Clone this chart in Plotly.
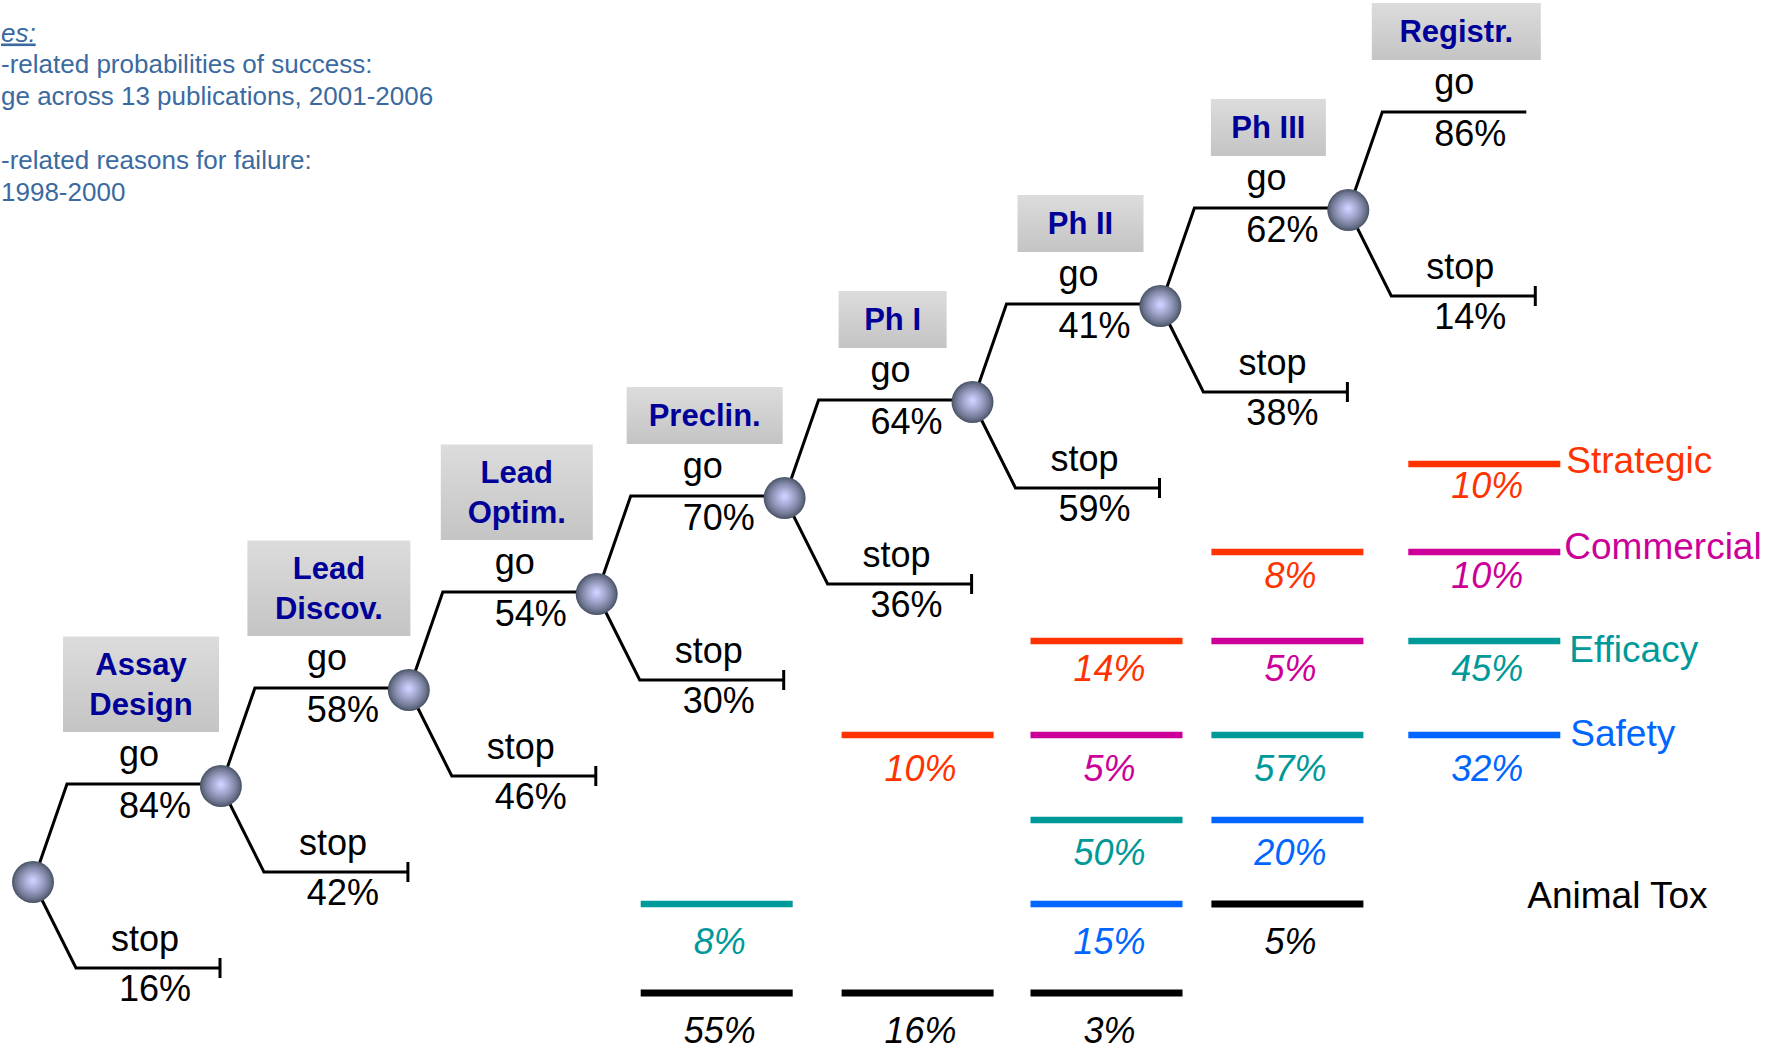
import plotly.graph_objects as go

# ---------------- data ----------------
stage_labels = ["Assay<br>Design", "Lead<br>Discov.", "Lead<br>Optim.", "Preclin.",
                "Ph I", "Ph II", "Ph III", "Registr."]
go_pct = [84, 58, 54, 70, 64, 41, 62, 86]
stop_pct = [16, 42, 46, 30, 36, 59, 38, 14]

reasons = ["Strategic", "Commercial", "Efficacy", "Safety", "Animal Tox"]
failure_stages = ["Preclin.", "Ph I", "Ph II", "Ph III", "Registr."]
strategic_pct = [None, 10, 14, 8, 10]
commercial_pct = [None, None, 5, 5, 10]
efficacy_pct = [8, None, 50, 57, 45]
safety_pct = [None, None, 15, 20, 32]
animal_tox_pct = [55, 16, 3, 5, None]
reason_values = [strategic_pct, commercial_pct, efficacy_pct, safety_pct, animal_tox_pct]

note_lines = ["<i><u>es:</u></i>",
              "-related probabilities of success:",
              "ge across 13 publications, 2001-2006",
              "",
              "-related reasons for failure:",
              "1998-2000"]

# ---------------- layout / style constants ----------------
W, H = 1778, 1050
FONT = "Liberation Sans, Arial, sans-serif"
X0, DX = 33, 187.9          # decision node spacing
Y0, DY = 882, 96
GO_RISE, GO_RUN = 98, 34
STOP_DROP, STOP_RUN, STOP_LEN = 86, 43, 187
LAST_GO_LEN = 178
TICK = 10
BOX_W = [156, 163, 152, 156, 108, 126, 115, 169]
BOX_DX, BOX_GAP = 108, 150
BOX_BASE_H, BOX_LINE_H = 18.5, 38.5
FIRST_FAIL_STAGE = 3        # failure columns start at "Preclin."
COL_DX = [120, 133, 134, 127, 136]   # column centre relative to its stage node
BAR_HALF = 76
BAR_ROW_Y = [464, 552, 641, 735, 820, 904, 993]
LABEL_ROW_Y = [489, 579, 672, 772, 856, 945, 1034]
ROW_INDEX = [                 # row of each reason in each failure column
    [None, 3, 2, 1, 0],       # Strategic
    [None, None, 3, 2, 1],    # Commercial
    [5, None, 4, 3, 2],       # Efficacy
    [None, None, 5, 4, 3],    # Safety
    [6, 6, 6, 5, 5],          # Animal Tox
]
LEGEND_DX = [82, 80, 85, 86, 43]
LEGEND_DY = [0, -2, 12, 2, -5]
REASON_COLORS = ["#FF3300", "#CC0099", "#009999", "#0066FF", "#000000"]
BAR_WIDTHS = [6.5, 6.5, 6.5, 6.5, 7]
NOTE_COLOR = "#3B6AA0"
NOTE_X = 1
NOTE_Y0, NOTE_DY = 35, 31.8


def node_xy(i):
    return X0 + i * DX, Y0 - i * DY


n = len(go_pct)
fig = go.Figure()

# ---------------- stage boxes ----------------
for i, lab in enumerate(stage_labels):
    nx, ny = node_xy(i)
    nl = lab.count("<br>") + 1
    h = BOX_BASE_H + BOX_LINE_H * nl
    cx = nx + BOX_DX
    bottom = ny - BOX_GAP
    top = bottom - h
    w = BOX_W[i]
    fig.add_trace(go.Scatter(
        x=[cx - w / 2, cx + w / 2, cx + w / 2, cx - w / 2, cx - w / 2],
        y=[top, top, bottom, bottom, top], mode="none", fill="toself",
        fillgradient=dict(type="vertical", start=top, stop=bottom,
                          colorscale=[[0, "#dcdcdc"], [1, "#c4c4c4"]]),
        hoverinfo="skip"))
    fig.add_trace(go.Scatter(
        x=[cx], y=[(top + bottom) / 2 + 3], mode="text", text=[f"<b>{lab}</b>"],
        textposition="middle center", cliponaxis=False,
        textfont=dict(family=FONT, size=31, color="#000099"), hoverinfo="skip"))

# ---------------- tree lines ----------------
lx, ly = [], []
for i in range(n):
    nx, ny = node_xy(i)
    gy = ny - GO_RISE
    gend = nx + DX if i < n - 1 else nx + LAST_GO_LEN
    lx += [nx, nx + GO_RUN, gend, None]
    ly += [ny, gy, gy, None]
    sy = ny + STOP_DROP
    send = nx + STOP_LEN
    lx += [nx, nx + STOP_RUN, send, None, send, send, None]
    ly += [ny, sy, sy, None, sy - TICK, sy + TICK, None]
fig.add_trace(go.Scatter(x=lx, y=ly, mode="lines",
                         line=dict(color="black", width=3), hoverinfo="skip"))

# ---------------- nodes (shaded spheres) ----------------
nodes = [node_xy(i) for i in range(n)]
outer = (78, 88, 108)
inner = (205, 208, 255)
layers = 14
for k in range(layers):
    t = k / (layers - 1)
    s = t ** 0.8
    col = tuple(int(outer[j] + (inner[j] - outer[j]) * s) for j in range(3))
    size = 42 * (1 - t) + 4 * t
    fig.add_trace(go.Scatter(
        x=[p[0] for p in nodes], y=[p[1] - 1.5 * t for p in nodes], mode="markers",
        marker=dict(size=size, color=f"rgb{col}", line=dict(width=0)),
        hoverinfo="skip"))

# ---------------- go / stop labels ----------------
tf = dict(family=FONT, size=36, color="black")
gx = [node_xy(i)[0] for i in range(n)]
gyl = [node_xy(i)[1] - GO_RISE for i in range(n)]
syl = [node_xy(i)[1] + STOP_DROP for i in range(n)]
fig.add_trace(go.Scatter(x=[x + 106 for x in gx], y=[y - 27 for y in gyl], mode="text",
                         text=["go"] * n, textfont=tf, cliponaxis=False, hoverinfo="skip"))
fig.add_trace(go.Scatter(x=[x + 122 for x in gx], y=[y + 25 for y in gyl], mode="text",
                         text=[f"{v}%" for v in go_pct], textfont=tf, cliponaxis=False,
                         hoverinfo="skip"))
fig.add_trace(go.Scatter(x=[x + 112 for x in gx], y=[y - 26 for y in syl], mode="text",
                         text=["stop"] * n, textfont=tf, cliponaxis=False, hoverinfo="skip"))
fig.add_trace(go.Scatter(x=[x + 122 for x in gx], y=[y + 24 for y in syl], mode="text",
                         text=[f"{v}%" for v in stop_pct], textfont=tf, cliponaxis=False,
                         hoverinfo="skip"))

# ---------------- failure reasons ----------------
def col_center(c):
    return node_xy(FIRST_FAIL_STAGE + c)[0] + COL_DX[c]


for r, (reason, vals) in enumerate(zip(reasons, reason_values)):
    bx, by, tx, ty, tt = [], [], [], [], []
    for c, v in enumerate(vals):
        if v is None:
            continue
        cx = col_center(c)
        row = ROW_INDEX[r][c]
        bx += [cx - BAR_HALF, cx + BAR_HALF, None]
        by += [BAR_ROW_Y[row], BAR_ROW_Y[row], None]
        tx.append(cx + 3)
        ty.append(LABEL_ROW_Y[row])
        tt.append(f"{v}%")
    fig.add_trace(go.Scatter(x=bx, y=by, mode="lines", hoverinfo="skip",
                             line=dict(color=REASON_COLORS[r], width=BAR_WIDTHS[r])))
    fig.add_trace(go.Scatter(x=tx, y=ty, mode="text", text=tt, cliponaxis=False,
                             textfont=dict(family=FONT, size=36, color=REASON_COLORS[r],
                                           style="italic"),
                             hoverinfo="skip"))
    # legend label next to the last column
    lc = len(failure_stages) - 1
    cx = col_center(lc)
    fig.add_trace(go.Scatter(x=[cx + LEGEND_DX[r]],
                             y=[BAR_ROW_Y[ROW_INDEX[r][lc]] + LEGEND_DY[r]],
                             mode="text", text=[reason], textposition="middle right",
                             cliponaxis=False, hoverinfo="skip",
                             textfont=dict(family=FONT, size=37, color=REASON_COLORS[r])))

# ---------------- notes (top-left) ----------------
fig.add_trace(go.Scatter(x=[NOTE_X] * len(note_lines),
                         y=[NOTE_Y0 + k * NOTE_DY for k in range(len(note_lines))],
                         mode="text", text=note_lines, textposition="middle right",
                         cliponaxis=False, hoverinfo="skip",
                         textfont=dict(family=FONT, size=26, color=NOTE_COLOR)))

fig.update_layout(
    width=W, height=H, autosize=False, showlegend=False,
    margin=dict(l=0, r=0, t=0, b=0, pad=0),
    paper_bgcolor="white", plot_bgcolor="white",
    xaxis=dict(range=[0, W], visible=False, fixedrange=True),
    yaxis=dict(range=[H, 0], visible=False, fixedrange=True),
)

fig.write_html("out.html", config={"displayModeBar": False},
               post_script="document.body.style.margin='0';")
